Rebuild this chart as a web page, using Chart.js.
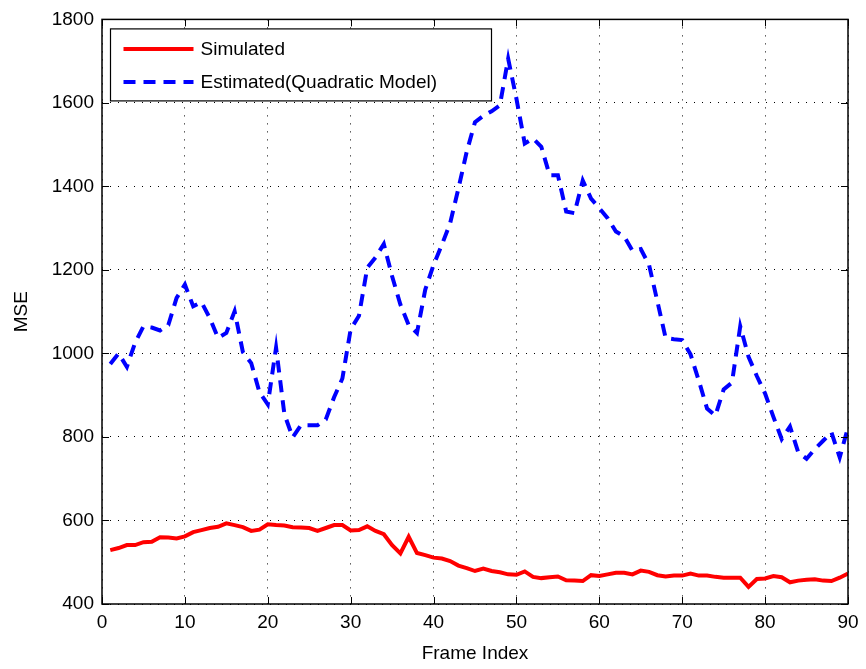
<!DOCTYPE html>
<html>
<head>
<meta charset="utf-8">
<script src="https://cdn.jsdelivr.net/npm/chart.js@4.4.0/dist/chart.umd.min.js"></script>
<style>
html, body { margin: 0; padding: 0; background: #fff; }
#wrap { width: 866px; height: 669px; }
</style>
</head>
<body>
<div id="wrap"><canvas id="c" width="866" height="669"></canvas></div>
<script>
var frames = [1, 2, 3, 4, 5, 6, 7, 8, 9, 10, 11, 12, 13, 14, 15, 16, 17, 18, 19, 20,
  21, 22, 23, 24, 25, 26, 27, 28, 29, 30, 31, 32, 33, 34, 35, 36, 37, 38, 39, 40,
  41, 42, 43, 44, 45, 46, 47, 48, 49, 50, 51, 52, 53, 54, 55, 56, 57, 58, 59, 60,
  61, 62, 63, 64, 65, 66, 67, 68, 69, 70, 71, 72, 73, 74, 75, 76, 77, 78, 79, 80,
  81, 82, 83, 84, 85, 86, 87, 88, 89, 90];

// red solid line
var simulated = [529, 534, 541, 541, 548, 549, 560, 559, 557, 562,
  572, 577, 582, 585, 593, 589, 584, 575, 578, 591,
  589, 588, 584, 583, 582, 575, 582, 589, 589, 576,
  577, 586, 575, 567, 541, 521, 561, 522, 517, 511,
  509, 503, 492, 486, 479, 485, 479, 476, 471, 470,
  478, 465, 462, 464, 466, 457, 456, 455, 469, 467,
  471, 475, 475, 471, 480, 477, 469, 466, 468, 468,
  473, 468, 468, 465, 463, 463, 463, 441, 460, 461,
  467, 464, 452, 456, 458, 459, 456, 455, 463, 473];

// blue dashed line
var estimated = [975, 1000, 968, 1026, 1065, 1062, 1055, 1068, 1133, 1165,
  1113, 1123, 1085, 1037, 1049, 1101, 1003, 977, 907, 878,
  1014, 855, 799, 828, 828, 828, 842, 895, 940, 1058,
  1090, 1205, 1230, 1262, 1185, 1117, 1068, 1049, 1153, 1212,
  1260, 1312, 1395, 1483, 1554, 1569, 1580, 1594, 1706, 1610,
  1503, 1515, 1495, 1427, 1427, 1340, 1336, 1414, 1371, 1348,
  1324, 1292, 1280, 1246, 1250, 1212, 1125, 1037, 1034, 1032,
  998, 935, 868, 851, 914, 930, 1065, 992, 946, 904,
  848, 795, 825, 763, 748, 771, 791, 811, 751, 823];

var xTicks = [0, 10, 20, 30, 40, 50, 60, 70, 80, 90];
var yTicks = [400, 600, 800, 1000, 1200, 1400, 1600, 1800];

var FONT = "'Liberation Sans', Arial, Helvetica, sans-serif";

function points(ys) {
  return frames.map(function (f, i) { return { x: f, y: ys[i] }; });
}

function plain(v) { return String(v); }

/* MATLAB style box, inward ticks and the legend */
var matlabBox = {
  id: 'matlabBox',
  afterDraw: function (chart) {
    var ctx = chart.ctx, a = chart.chartArea;
    var xs = chart.scales.x, ys = chart.scales.y;
    var tl = 7;

    ctx.save();
    ctx.strokeStyle = '#000';
    ctx.lineWidth = 1.5;
    ctx.strokeRect(a.left, a.top, a.right - a.left, a.bottom - a.top);

    ctx.lineWidth = 1;
    ctx.beginPath();
    xTicks.forEach(function (v) {
      var px = Math.round(xs.getPixelForValue(v)) + 0.5;
      ctx.moveTo(px, a.bottom); ctx.lineTo(px, a.bottom - tl);
      ctx.moveTo(px, a.top); ctx.lineTo(px, a.top + tl);
    });
    yTicks.forEach(function (v) {
      var py = Math.round(ys.getPixelForValue(v)) + 0.5;
      ctx.moveTo(a.left, py); ctx.lineTo(a.left + tl, py);
      ctx.moveTo(a.right, py); ctx.lineTo(a.right - tl, py);
    });
    ctx.stroke();

    // legend
    var lx = a.left + 8.5, ly = a.top + 9.5, lw = 381, lh = 72;
    ctx.fillStyle = '#fff';
    ctx.fillRect(lx, ly, lw, lh);
    ctx.lineWidth = 1.2;
    ctx.strokeRect(lx, ly, lw, lh);

    ctx.font = '19px ' + FONT;
    ctx.textBaseline = 'middle';
    ctx.textAlign = 'left';
    chart.data.datasets.forEach(function (ds, i) {
      var y = ly + 20 + i * 33;
      ctx.beginPath();
      ctx.strokeStyle = ds.borderColor;
      ctx.lineWidth = ds.borderWidth;
      ctx.setLineDash(ds.borderDash || []);
      ctx.moveTo(lx + 13, y);
      ctx.lineTo(lx + 83, y);
      ctx.stroke();
      ctx.setLineDash([]);
      ctx.fillStyle = '#000';
      ctx.fillText(ds.label, lx + 90, y + 1);
    });
    ctx.restore();
  }
};

new Chart(document.getElementById('c'), {
  type: 'line',
  data: {
    datasets: [
      {
        label: 'Simulated',
        data: points(simulated),
        borderColor: '#ff0000',
        borderWidth: 4,
        pointRadius: 0,
        tension: 0,
        fill: false
      },
      {
        label: 'Estimated(Quadratic Model)',
        data: points(estimated),
        borderColor: '#0000ff',
        borderWidth: 4,
        borderDash: [12, 8],
        pointRadius: 0,
        tension: 0,
        fill: false
      }
    ]
  },
  options: {
    responsive: false,
    devicePixelRatio: 1,
    animation: false,
    layout: { padding: { top: 17, right: 18, left: 0, bottom: 0 } },
    plugins: { legend: { display: false }, tooltip: { enabled: false } },
    scales: {
      x: {
        type: 'linear',
        min: 0, max: 90,
        afterFit: function (s) { s.height = 65; },
        afterBuildTicks: function (s) { s.ticks = xTicks.map(function (v) { return { value: v }; }); },
        ticks: { color: '#000', font: { family: FONT, size: 19 }, padding: 7, maxRotation: 0, callback: plain },
        grid: { color: '#000', lineWidth: 1, drawTicks: false },
        border: { display: false, dash: [1, 7] },
        title: { display: true, text: 'Frame Index', color: '#000', font: { family: FONT, size: 19 }, padding: { top: 0, bottom: 4 } }
      },
      y: {
        min: 400, max: 1800,
        afterFit: function (s) { s.width = 102; },
        afterBuildTicks: function (s) { s.ticks = yTicks.map(function (v) { return { value: v }; }); },
        ticks: { color: '#000', font: { family: FONT, size: 19 }, padding: 8, callback: plain },
        grid: { color: '#000', lineWidth: 1, drawTicks: false },
        border: { display: false, dash: [1, 7] },
        title: { display: true, text: 'MSE', color: '#000', font: { family: FONT, size: 19 }, padding: { top: 10, bottom: 0 } }
      }
    }
  },
  plugins: [matlabBox]
});
</script>
</body>
</html>
